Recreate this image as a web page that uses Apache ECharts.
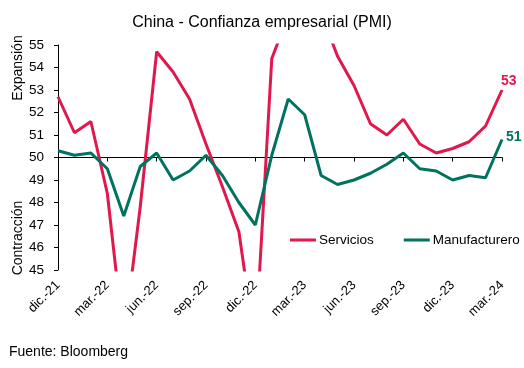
<!DOCTYPE html>
<html><head><meta charset="utf-8">
<script src="https://cdn.jsdelivr.net/npm/echarts@6/dist/echarts.min.js"></script>
<style>html,body{margin:0;padding:0;background:#fff}#c{width:524px;height:368px}</style>
</head><body><div id="c"></div>
<script>
const months = ['dic.-21','ene.-22','feb.-22','mar.-22','abr.-22','may.-22','jun.-22','jul.-22','ago.-22','sep.-22','oct.-22','nov.-22','dic.-22','ene.-23','feb.-23','mar.-23','abr.-23','may.-23','jun.-23','jul.-23','ago.-23','sep.-23','oct.-23','nov.-23','dic.-23','ene.-24','feb.-24','mar.-24'];
const servicios = [52.7,51.1,51.6,48.4,41.9,47.8,54.7,53.8,52.6,50.6,48.7,46.7,41.6,54.4,56.3,58.2,56.4,54.5,53.2,51.5,51.0,51.7,50.6,50.2,50.4,50.7,51.4,53.0];
const manufacturero = [50.3,50.1,50.2,49.5,47.4,49.6,50.2,49.0,49.4,50.1,49.2,48.0,47.0,50.1,52.6,51.9,49.2,48.8,49.0,49.3,49.7,50.2,49.5,49.4,49.0,49.2,49.1,50.8];
const yMin = 45, yMax = 55, yStep = 1, refLine = 50;

const RED = '#E0184D', GREEN = '#00735F';
const FONT = 'Liberation Sans';
const chart = echarts.init(document.getElementById('c'), null, {renderer:'canvas'});
const every3 = (i) => i % 3 === 0;
chart.setOption({
  animation:false,
  backgroundColor:'#fff',
  title:{text:'China - Confianza empresarial (PMI)', left:'center', top:10,
    textStyle:{fontFamily:FONT, fontSize:16, fontWeight:'normal', color:'#000'}},
  grid:{left:58, right:22, top:45, bottom:98},
  legend:{left:290, top:233, width:234, padding:0, itemWidth:26, itemHeight:3, itemGap:30, icon:'rect',
    textStyle:{fontFamily:FONT, fontSize:13.5, color:'#000', padding:[0,0,0,-2]},
    data:['Servicios','Manufacturero']},
  xAxis:[{
    type:'category', data:months, boundaryGap:false, position:'bottom',
    axisLine:{show:false}, axisTick:{show:false},
    axisLabel:{interval:(i)=>every3(i), rotate:45, fontFamily:FONT, fontSize:13, color:'#000', margin:13}
  },{
    type:'category', data:months, boundaryGap:false, position:'bottom', offset:-112.5,
    axisLine:{show:true, lineStyle:{color:'#000', width:1}},
    axisTick:{show:true, interval:(i)=>every3(i), length:4, lineStyle:{color:'#000'}},
    axisLabel:{show:false}
  }],
  yAxis:{type:'value', min:yMin, max:yMax, interval:yStep,
    axisLine:{show:true, lineStyle:{color:'#000'}},
    axisTick:{show:true, length:4, lineStyle:{color:'#000'}},
    splitLine:{show:false},
    axisLabel:{fontFamily:FONT, fontSize:13.5, color:'#000', margin:14}},
  graphic:[
    {type:'text', x:18, y:68, rotation:Math.PI/2, style:{text:'Expansión', font:'14px "Liberation Sans"', fill:'#000', align:'center', verticalAlign:'middle'}},
    {type:'text', x:18, y:238, rotation:Math.PI/2, style:{text:'Contracción', font:'14px "Liberation Sans"', fill:'#000', align:'center', verticalAlign:'middle'}},
    {type:'text', x:9, y:345, style:{text:'Fuente: Bloomberg', font:'14px "Liberation Sans"', fill:'#000'}}
  ],
  series:[{
    name:'Servicios', type:'line', data:servicios, symbol:'none', clip:true,
    lineStyle:{color:RED, width:3}, itemStyle:{color:RED},
    endLabel:{show:true, formatter:(p)=>Math.round(p.value), offset:[-9,-9],
      fontFamily:FONT, fontSize:14, fontWeight:'bold', color:RED}
  },{
    name:'Manufacturero', type:'line', data:manufacturero, symbol:'none', clip:true,
    lineStyle:{color:GREEN, width:3}, itemStyle:{color:GREEN},
    endLabel:{show:true, formatter:(p)=>Math.round(p.value), offset:[-4,-2],
      fontFamily:FONT, fontSize:14, fontWeight:'bold', color:GREEN}
  }]
});
</script></body></html>
